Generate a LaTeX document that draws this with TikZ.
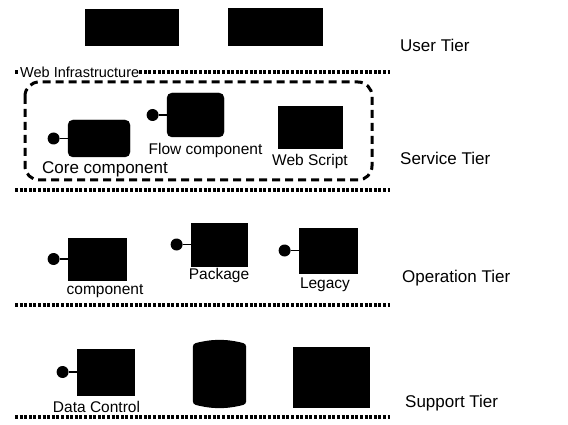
\documentclass[tikz,border=0pt]{standalone}
\usepackage{fontspec}
\setmainfont{Liberation Sans}
\usetikzlibrary{positioning}

\begin{document}
\begin{tikzpicture}[
    x=1pt, y=-1pt,
    node distance=8pt,
    unit/.style={
        fill=black,
        draw=black,
        inner sep=0pt
    },
    roundunit/.style={
        unit,
        rounded corners=5pt
    },
    port/.style={
        circle,
        fill=black,
        minimum size=12pt,
        inner sep=0pt
    },
    lbl/.style={
        font=\fontsize{15.5}{17}\selectfont,
        inner sep=0pt
    },
    tier/.style={
        font=\fontsize{17}{19}\selectfont,
        anchor=west,
        inner sep=0pt
    },
    divider/.style={
        line width=3.5pt,
        dash pattern=on 3pt off 1.6pt
    },
    link/.style={line width=1.2pt}
]
\useasboundingbox (0,0) rectangle (568,425);

% user tier
\node[unit, minimum width=93pt, minimum height=36pt] (user1) at (131.5,27.5) {};
\node[unit, minimum width=94pt, minimum height=37pt] (user2) at (275,26.5) {};
\node[tier] (usertier) at (400,45) {User Tier};

% web infrastructure
\coordinate (wl) at (15,72);
\coordinate (wr) at (390,72);
\draw[divider] (wl) -- (wr);
\node[lbl, anchor=west, fill=white, font=\fontsize{14.5}{16}\selectfont] (webinfra) at (20,72) {Web Infrastructure};
\draw[line width=3pt, dash pattern=on 8pt off 5pt, rounded corners=14pt] (25,82) rectangle (372,180);

% service tier
\node[roundunit, minimum width=57pt, minimum height=44pt] (flow) at (195.5,115) {};
\node[port, left=of flow] (flowport) {};
\node[lbl, below=6pt of flow, xshift=10pt] (flowlbl) {Flow component};

\node[roundunit, minimum width=62pt, minimum height=37pt] (core) at (99,138.5) {};
\node[port, left=of core] (coreport) {};
\node[lbl, below=4pt of core, xshift=6pt, font=\fontsize{17}{19}\selectfont] (corelbl) {Core component};

\node[unit, minimum width=64pt, minimum height=42pt] (script) at (310,127) {};
\node[lbl, below=6pt of script] (scriptlbl) {Web Script};

\node[tier] (servicetier) at (400,158) {Service Tier};

\coordinate (sl) at (15,190);
\coordinate (sr) at (390,190);
\draw[divider] (sl) -- (sr);

% operation tier
\node[unit, minimum width=58pt, minimum height=42pt] (comp) at (97,259) {};
\node[port, left=of comp] (compport) {};
\node[lbl, below=4pt of comp, xshift=8pt] (complbl) {component};

\node[unit, minimum width=56pt, minimum height=43pt] (pkg) at (219,244.5) {};
\node[port, left=of pkg] (pkgport) {};
\node[lbl, below=2pt of pkg] (pkglbl) {Package};

\node[unit, minimum width=58pt, minimum height=45pt] (legacy) at (328,250.5) {};
\node[port, left=of legacy] (legacyport) {};
\node[lbl, below=4pt of legacy, xshift=-3pt] (legacylbl) {Legacy};

\node[tier] (operationtier) at (402,278) {Operation Tier};

\coordinate (ol) at (15,305);
\coordinate (or) at (390,305);
\draw[divider] (ol) -- (or);

% support tier
\node[unit, minimum width=57pt, minimum height=46pt] (dctrl) at (105.5,372) {};
\node[port, left=of dctrl] (dctrlport) {};
\node[lbl, below=6pt of dctrl, xshift=-9pt] (dctrllbl) {Data Control};

% database drum
\node[inner sep=0pt, minimum width=53pt, minimum height=60pt] (db) at (219.5,374) {};
\fill[rounded corners=3pt] (db.north west) to[bend left=14] (db.north east) -- (db.south east)
      to[bend left=14] (db.south west) -- cycle;

\node[unit, minimum width=76pt, minimum height=60pt] (store) at (331,377) {};

\node[tier] (supporttier) at (405,403) {Support Tier};

\coordinate (pl) at (15,417);
\coordinate (pr) at (390,417);
\draw[divider] (pl) -- (pr);

\draw[link] (flowport) -- (flow);
\draw[link] (coreport) -- (core);
\draw[link] (compport) -- (comp);
\draw[link] (pkgport) -- (pkg);
\draw[link] (legacyport) -- (legacy);
\draw[link] (dctrlport) -- (dctrl);

\end{tikzpicture}
\end{document}
